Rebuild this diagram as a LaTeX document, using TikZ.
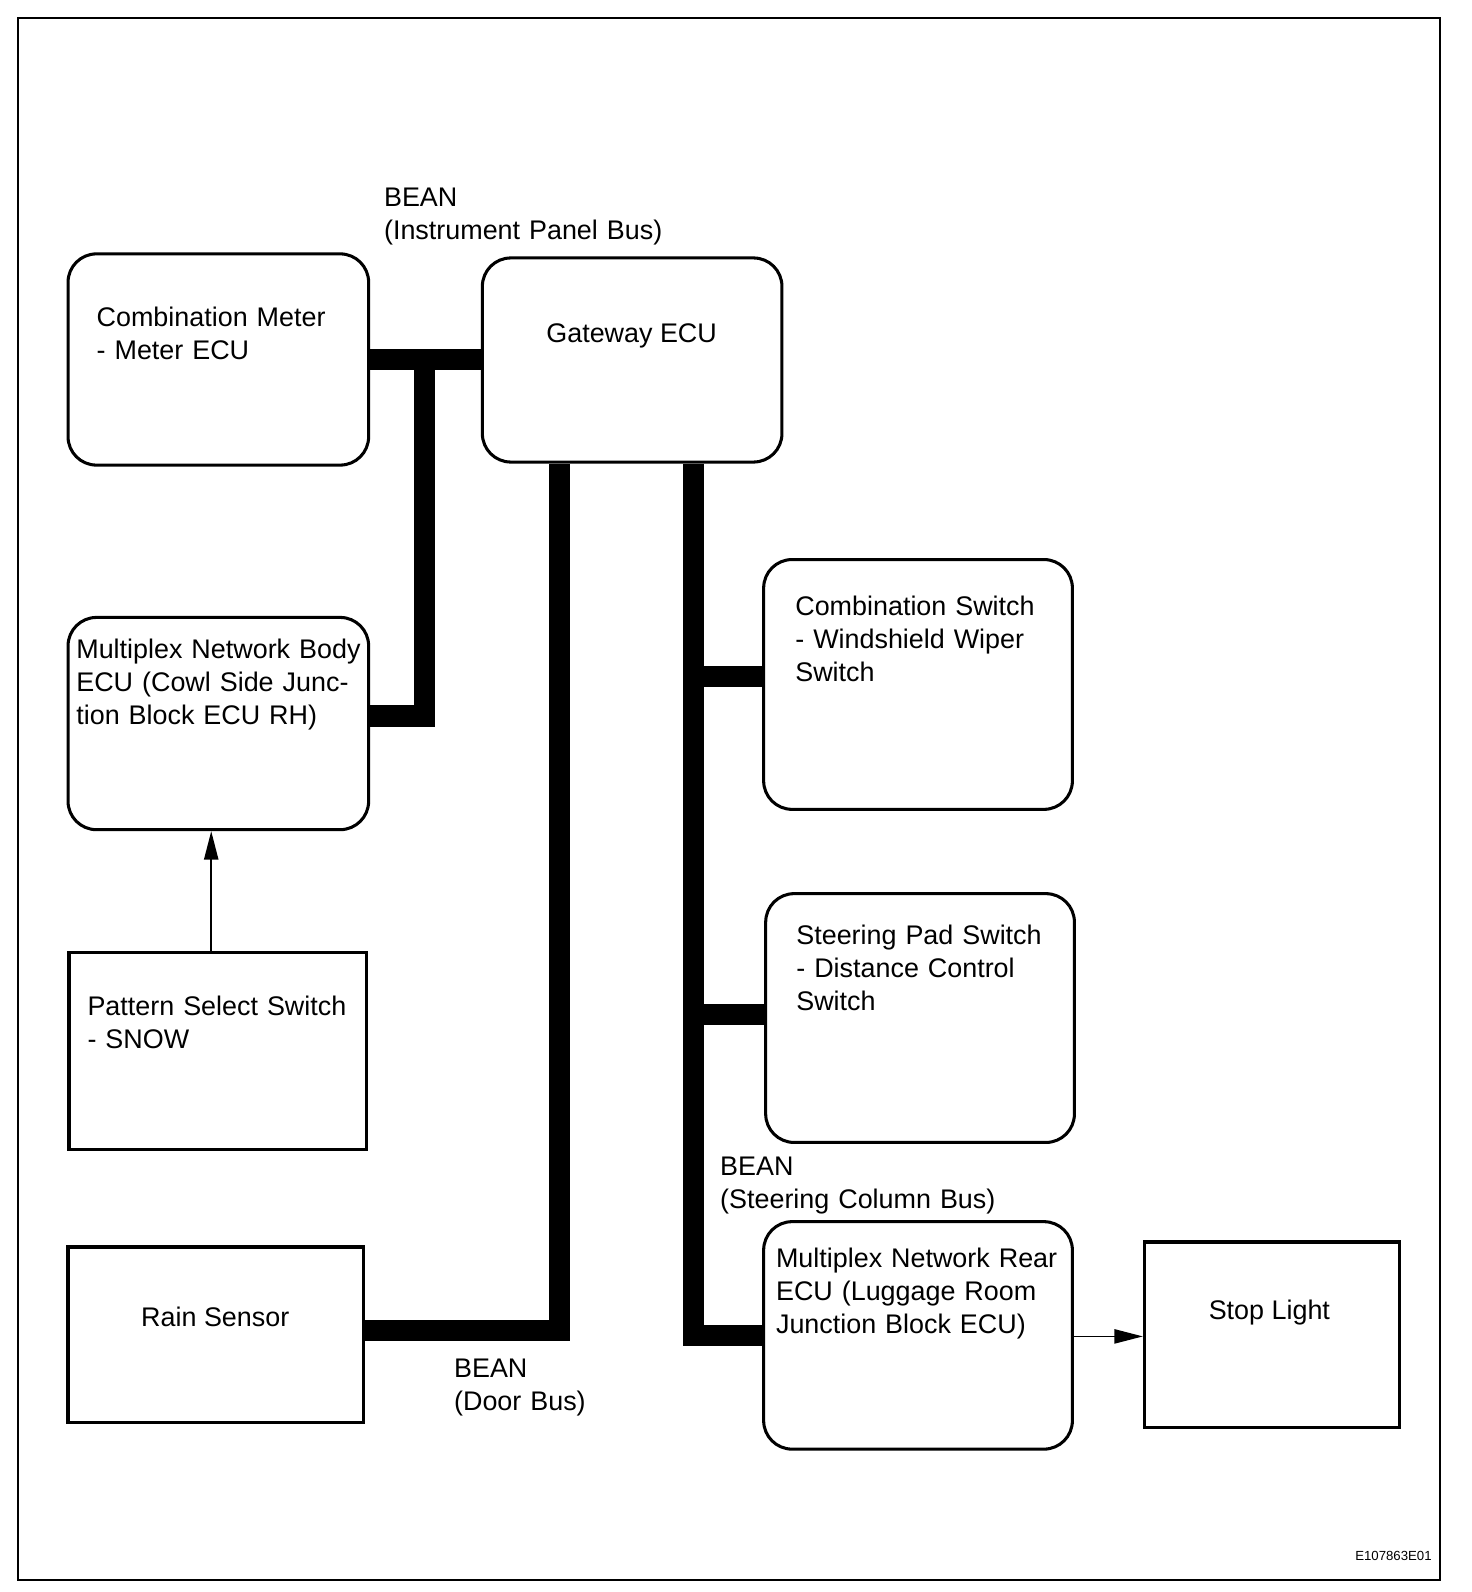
\documentclass[tikz,border=0pt]{standalone}
\usepackage{fontspec}
\setmainfont{Liberation Sans}
\usetikzlibrary{arrows.meta}
\begin{document}
\begin{tikzpicture}[x=1pt,y=-1pt,
  rbox/.style={draw, line width=3pt, rounded corners=28pt, inner sep=0pt},
  sbox/.style={draw, line width=3.2pt, inner sep=0pt},
  bus/.style={line width=21pt, line join=miter},
  txt/.style={inner sep=0pt, anchor=base west, align=left, text width=330pt, font=\fontsize{26.5}{32.5}\selectfont},
  ctxt/.style={inner sep=0pt, anchor=base, font=\fontsize{26.5}{32.5}\selectfont},
  arr/.style={line width=1.6pt, -{Triangle[length=28pt,width=14pt]}}]
\useasboundingbox (0,0) rectangle (1449.5,1567.7);
\fill[white] (0,0) rectangle (1449.5,1567.7);
\draw[line width=2pt] (18,18) rectangle (1418,1556);

% boxes
\node[rbox, minimum width=296pt, minimum height=208pt] (cm) at (215,354) {};
\node[rbox, minimum width=295pt, minimum height=201pt] (gw) at (622.5,354.5) {};
\node[rbox, minimum width=296pt, minimum height=209pt] (mnb) at (215,712.5) {};
\node[sbox, minimum width=293pt, minimum height=194pt] (pss) at (214.5,1035) {};
\node[sbox, minimum width=291pt, minimum height=173pt] (rain) at (212.5,1314.5) {};
\node[rbox, minimum width=304pt, minimum height=246pt] (cs) at (904,674) {};
\node[rbox, minimum width=304pt, minimum height=245pt] (sp) at (906,1002.5) {};
\node[rbox, minimum width=304pt, minimum height=224pt] (mnr) at (904,1315) {};
\node[sbox, minimum width=251pt, minimum height=183pt] (sl) at (1252.5,1314.5) {};

% texts
\node[txt] (tcm) at (95,322) {Combination Meter\\- Meter ECU};
\node[ctxt] (tgw) at (622,337) {Gateway ECU};
\node[txt] (tbean1) at (378,203) {BEAN\\(Instrument Panel Bus)};
\node[txt] (tmnb) at (75,648) {Multiplex Network Body\\ECU (Cowl Side Junc-\\tion Block ECU RH)};
\node[txt] (tpss) at (86,1000) {Pattern Select Switch\\- SNOW};
\node[ctxt] (train) at (212,1306) {Rain Sensor};
\node[txt] (tbean2) at (447,1356) {BEAN\\(Door Bus)};
\node[txt] (tcs) at (783,606) {Combination Switch\\- Windshield Wiper\\Switch};
\node[txt] (tsp) at (784,930) {Steering Pad Switch\\- Distance Control\\Switch};
\node[txt] (tbean3) at (709,1158) {BEAN\\(Steering Column Bus)};
\node[txt] (tmnr) at (764,1248) {Multiplex Network Rear\\ECU (Luggage Room\\Junction Block ECU)};
\node[ctxt] (tsl) at (1250,1299) {Stop Light};
\node[inner sep=0pt, anchor=base east, font=\fontsize{13}{15}\selectfont] (code) at (1410,1537) {E107863E01};

% instrument panel bus
\coordinate (j1) at (418,354);
\draw[bus] (cm.east) -- (gw.west |- cm.east);
\draw[bus] (j1) -- (418,705) -- (mnb.east |- 0,705);

% door bus
\draw[bus] (rain.east |- 0,1310) -- (551,1310) -- (gw.south -| 551,0);

% steering column bus
\draw[bus] (gw.south -| 683,0) -- (683,1315) -- (mnr.west);
\draw[bus] (683,666) -- (cs.west |- 0,666);
\draw[bus] (683,999) -- (sp.west |- 0,999);

% arrows
\draw[arr] (pss.north -| 208,0) -- (mnb.south -| 208,0);
\draw[arr] (mnr.east |- 0,1316) -- (sl.west |- 0,1316);
\end{tikzpicture}
\end{document}
